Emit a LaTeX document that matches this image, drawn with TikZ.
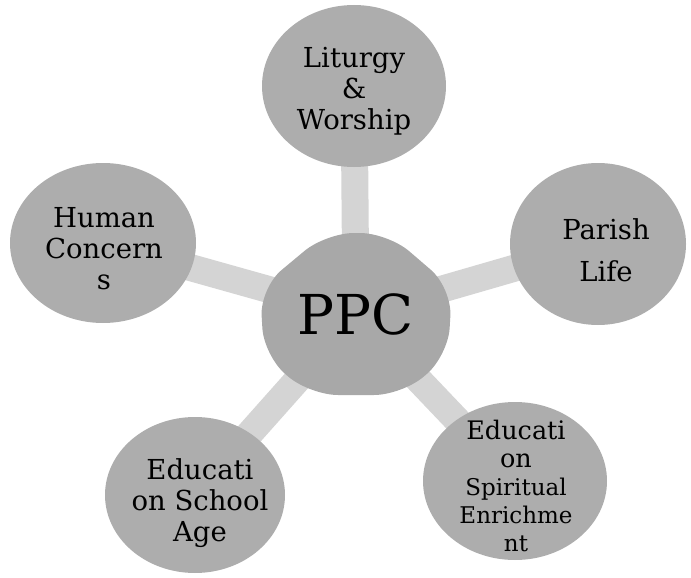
\documentclass[tikz,border=0pt]{standalone}
\usepackage{fontspec}
\setmainfont{DejaVu Serif}
\usetikzlibrary{shapes.geometric}
\pgfdeclarelayer{bg}
\pgfsetlayers{bg,main}
\definecolor{bubble}{gray}{0.68}
\definecolor{link}{gray}{0.83}
\definecolor{core}{gray}{0.66}
\tikzset{
  bubble/.style={ellipse, fill=bubble, draw=none, inner sep=0pt},
  btext/.style={align=center, font=\fontsize{27.5}{31}\selectfont, text=black, inner sep=0pt},
  linkline/.style={draw=link, line width=27pt}
}
\begin{document}
\begin{tikzpicture}[x=1pt,y=-1pt]
\useasboundingbox (0,0) rectangle (691,578);
% outer bubbles
\node[bubble, minimum width=184pt, minimum height=162pt] (lit) at (354,86) {};
\node[bubble, minimum width=186pt, minimum height=160pt] (hum) at (103,243) {};
\node[bubble, minimum width=176pt, minimum height=162pt] (par) at (598,244) {};
\node[bubble, minimum width=180pt, minimum height=156pt] (sch) at (195,495) {};
\node[bubble, minimum width=184pt, minimum height=158pt] (spi) at (515,481) {};
% centre shape
\fill[core, rounded corners=28pt] (326,233) -- (388,233) -- (452,288) -- (448,356) -- (402,395) -- (310,395) -- (264,356) -- (260,288) -- cycle;
\node[inner sep=0pt, font=\fontsize{55}{60}\selectfont] (ppc) at (356,314) {PPC};
% texts
\node[btext] (litt) at (354,91) {Liturgy\\\&\\Worship};
\node[btext] (humt) at (104,249) {Human\\Concern\\s};
\node[btext] (part) at (606,250) {Parish\\[11pt]Life};
\node[btext] (scht) at (200,503) {Educati\\on School\\Age};
\node[align=center, inner sep=0pt, font=\fontsize{25.5}{28}\selectfont] (spit) at (516,486) {Educati\\on\\{\fontsize{23}{27}\selectfont Spiritual}\\{\fontsize{23}{26}\selectfont Enrichme}\\{\fontsize{23}{25}\selectfont nt}};
% connectors
\begin{pgfonlayer}{bg}
\draw[linkline] (ppc.center) -- (lit.center);
\draw[linkline] (ppc.center) -- (hum.center);
\draw[linkline] (ppc.center) -- (par.center);
\draw[linkline] (ppc.center) -- (sch.center);
\draw[linkline] (ppc.center) -- (spi.center);
\end{pgfonlayer}
\end{tikzpicture}
\end{document}
